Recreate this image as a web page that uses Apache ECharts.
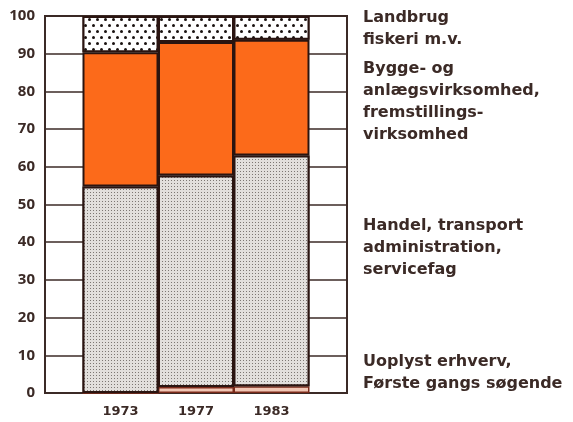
<!DOCTYPE html>
<html>
<head>
<meta charset="utf-8">
<script src="https://cdn.jsdelivr.net/npm/echarts@6/dist/echarts.min.js"></script>
<style>
  html, body { margin: 0; padding: 0; background: #fff; }
  #main { width: 573px; height: 422px; }
</style>
</head>
<body>
<div id="main"></div>
<script>
// år (tomme pladser i hver ende giver den hvide margin i rammen)
var years = ['1973', '1977', '1983'];
var yTicks = [0, 10, 20, 30, 40, 50, 60, 70, 80, 90, 100];

// procent af beskæftigede, nedefra og op
var uoplyst  = [0, 1.6, 1.8];
var handel   = [54.8, 56.1, 61.2];
var bygge    = [35.6, 35.4, 30.7];
var landbrug = [9.6, 6.9, 6.3];

// tekster til højre, linje for linje, med y-position
var labelLines = [
  ['Landbrug', 17], ['fiskeri m.v.', 39],
  ['Bygge- og', 68], ['anlægsvirksomhed,', 90], ['fremstillings-', 112], ['virksomhed', 134],
  ['Handel, transport', 225], ['administration,', 247], ['servicefag', 269],
  ['Uoplyst erhverv,', 361], ['Første gangs søgende', 383]
];

var ink = '#3b2a26';
var cats = [''].concat(years, ['']);
function pad(arr) { return [null].concat(arr, [null]); }

var myChart = echarts.init(document.getElementById('main'));

var border = { borderColor: '#2a1410', borderWidth: 2 };

var option = {
  animation: false,
  grid: { left: 45, right: 226, top: 16, bottom: 29, show: true, borderColor: ink, borderWidth: 2, backgroundColor: 'transparent' },
  xAxis: {
    type: 'category',
    data: cats,
    boundaryGap: false,
    axisTick: { show: false },
    axisLine: { lineStyle: { color: ink, width: 2 } },
    axisLabel: { color: ink, fontFamily: 'DejaVu Sans', fontWeight: 'bold', fontSize: 13, margin: 12 },
    splitLine: { show: false }
  },
  yAxis: {
    type: 'value',
    min: 0, max: 100, interval: 10,
    axisLine: { show: true, lineStyle: { color: ink, width: 2 } },
    axisTick: { show: false },
    axisLabel: { color: ink, fontFamily: 'Open Sans', fontWeight: 'bold', fontSize: 15, margin: 10 },
    splitLine: { show: true, lineStyle: { color: ink, width: 1.5 } }
  },
  series: [
    {
      name: 'Uoplyst', type: 'bar', stack: 'a', barWidth: 76, data: pad(uoplyst),
      itemStyle: { color: '#f2c6b4', borderColor: '#7a2a1a', borderWidth: 1.5 }
    },
    {
      name: 'Handel', type: 'bar', stack: 'a', barWidth: 76, data: pad(handel),
      itemStyle: Object.assign({
        color: '#dedad7',
        decal: { symbol: 'rect', symbolSize: 1, dashArrayX: [1, 2], dashArrayY: [1, 2], color: '#7d7773', backgroundColor: '#e2dfdc' }
      }, border)
    },
    {
      name: 'Bygge', type: 'bar', stack: 'a', barWidth: 76, data: pad(bygge),
      itemStyle: Object.assign({ color: '#fc6a1a' }, border)
    },
    {
      name: 'Landbrug', type: 'bar', stack: 'a', barWidth: 76, data: pad(landbrug),
      itemStyle: Object.assign({
        color: '#ffffff',
        decal: { symbol: 'circle', symbolSize: 1, dashArrayX: [[2.8, 4.2], [0, 3.5, 2.8, 0.7]], dashArrayY: [2.7, 2.6], color: '#1a1210', backgroundColor: '#ffffff' }
      }, border)
    }
  ],
  graphic: labelLines.map(function (l) {
    return {
      type: 'text', left: 363, top: l[1] - 7,
      style: { text: l[0], fill: ink, font: 'bold 16px "DejaVu Sans"' }
    };
  })
};

myChart.setOption(option);
</script>
</body>
</html>
